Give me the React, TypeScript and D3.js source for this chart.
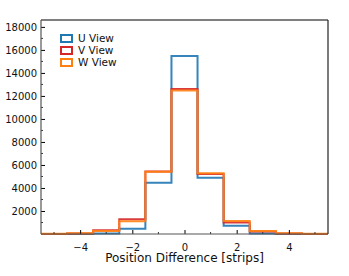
import React, { useEffect, useRef } from "react";
import * as d3 from "d3";

// bin centres, one strip wide
const binCenters = [-5, -4, -3, -2, -1, 0, 1, 2, 3, 4, 5];
const uView = [0, 0, 40, 460, 4460, 15470, 4880, 720, 40, 5, 0];
const vView = [10, 40, 330, 1290, 5440, 12600, 5220, 990, 220, 50, 10];
const wView = [20, 60, 260, 1110, 5420, 12480, 5280, 1130, 260, 70, 20];

const seriesNames = ["U View", "V View", "W View"];
const seriesColors = ["#1f77b4", "#d62728", "#ff7f0e"];
const yTicks = [2000, 4000, 6000, 8000, 10000, 12000, 14000, 16000, 18000];
const xTicks = [-4, -2, 0, 2, 4];

const W = 349;
const H = 276;
const FONT = "DejaVu Sans, sans-serif";

function App() {
  const svgRef = useRef<SVGSVGElement>(null);

  useEffect(() => {
    const svg = d3.select(svgRef.current);
    svg.selectAll("*").remove();
    const margin = { top: 20, right: 21, bottom: 42, left: 41 };

    const x = d3
      .scaleLinear()
      .domain([-5.5, 5.5])
      .range([margin.left, W - margin.right]);
    const y = d3
      .scaleLinear()
      .domain([0, 18600])
      .range([H - margin.bottom, margin.top]);

    const series = [uView, vView, wView];

    // step outline for each histogram
    series.forEach((vals, si) => {
      const pts: [number, number][] = [];
      binCenters.forEach((c, i) => {
        pts.push([c - 0.5, vals[i]]);
        pts.push([c + 0.5, vals[i]]);
      });
      const line = d3
        .line<[number, number]>()
        .x((d) => x(d[0]))
        .y((d) => y(d[1]));
      svg
        .append("path")
        .datum(pts)
        .attr("fill", "none")
        .attr("stroke", seriesColors[si])
        .attr("stroke-width", 2)
        .attr("stroke-opacity", 0.9)
        .attr("stroke-linejoin", "miter")
        .attr("d", line);
    });

    // y axis, ticks pointing inward
    const yAxis = d3.axisRight(y).tickValues(yTicks).tickSize(4).tickFormat(d3.format("d"));
    const gy = svg
      .append("g")
      .attr("transform", `translate(${margin.left},0)`)
      .call(yAxis);
    gy.select(".domain").remove();
    gy.selectAll("text")
      .attr("x", -4)
      .attr("text-anchor", "end")
      .attr("font-family", FONT)
      .attr("font-size", 10)
      .attr("fill", "#111");
    const yMinor = d3.range(1000, 18600, 2000);
    svg
      .append("g")
      .selectAll("line")
      .data(yMinor)
      .join("line")
      .attr("x1", margin.left)
      .attr("x2", margin.left + 2)
      .attr("y1", (d) => y(d))
      .attr("y2", (d) => y(d))
      .attr("stroke", "#333");

    // x axis, ticks pointing inward
    const xAxis = d3.axisTop(x).tickValues(xTicks).tickSize(4).tickFormat((d) => d3.format("d")(d as number).replace("-", "\u2212"));
    const gx = svg
      .append("g")
      .attr("transform", `translate(0,${H - margin.bottom})`)
      .call(xAxis);
    gx.select(".domain").remove();
    gx.selectAll("text")
      .attr("y", 13)
      .attr("dy", "0.35em")
      .attr("font-family", FONT)
      .attr("font-size", 10)
      .attr("fill", "#111");
    svg
      .append("g")
      .selectAll("line")
      .data([-5, -3, -1, 1, 3, 5])
      .join("line")
      .attr("x1", (d) => x(d))
      .attr("x2", (d) => x(d))
      .attr("y1", H - margin.bottom)
      .attr("y2", H - margin.bottom - 2)
      .attr("stroke", "#333");

    // frame
    const x0 = margin.left;
    const x1 = W - margin.right;
    const y0 = margin.top;
    const y1 = H - margin.bottom;
    svg.append("line").attr("x1", x0).attr("x2", x1).attr("y1", y0).attr("y2", y0).attr("stroke", "#000").attr("stroke-width", 1.2);
    svg.append("line").attr("x1", x1).attr("x2", x1).attr("y1", y0).attr("y2", y1).attr("stroke", "#222").attr("stroke-width", 1.2);
    svg.append("line").attr("x1", x0).attr("x2", x0).attr("y1", y0).attr("y2", y1).attr("stroke", "#555").attr("stroke-width", 1.2);
    svg.append("line").attr("x1", x0).attr("x2", x1).attr("y1", y1).attr("y2", y1).attr("stroke", "#555").attr("stroke-width", 1.2);

    // axis label
    svg
      .append("text")
      .attr("x", (x0 + x1) / 2)
      .attr("y", 262)
      .attr("text-anchor", "middle")
      .attr("font-family", FONT)
      .attr("font-size", 12)
      .attr("fill", "#111")
      .text("Position Difference [strips]");

    // legend
    const leg = svg.append("g").attr("transform", "translate(61,35)");
    seriesNames.forEach((name, i) => {
      const row = leg.append("g").attr("transform", `translate(0,${i * 12})`);
      row
        .append("rect")
        .attr("x", 0)
        .attr("y", 0)
        .attr("width", 11)
        .attr("height", 7)
        .attr("fill", "none")
        .attr("stroke", seriesColors[i])
        .attr("stroke-width", 2);
      row
        .append("text")
        .attr("x", 17)
        .attr("y", 3.5)
        .attr("dy", "0.35em")
        .attr("font-family", FONT)
        .attr("font-size", 10.5)
        .attr("fill", "#111")
        .text(name);
    });
  }, []);

  return (
    <svg
      ref={svgRef}
      width={W}
      height={H}
      style={{ position: "absolute", left: 0, top: 0 }}
    ></svg>
  );
}

export default App;
